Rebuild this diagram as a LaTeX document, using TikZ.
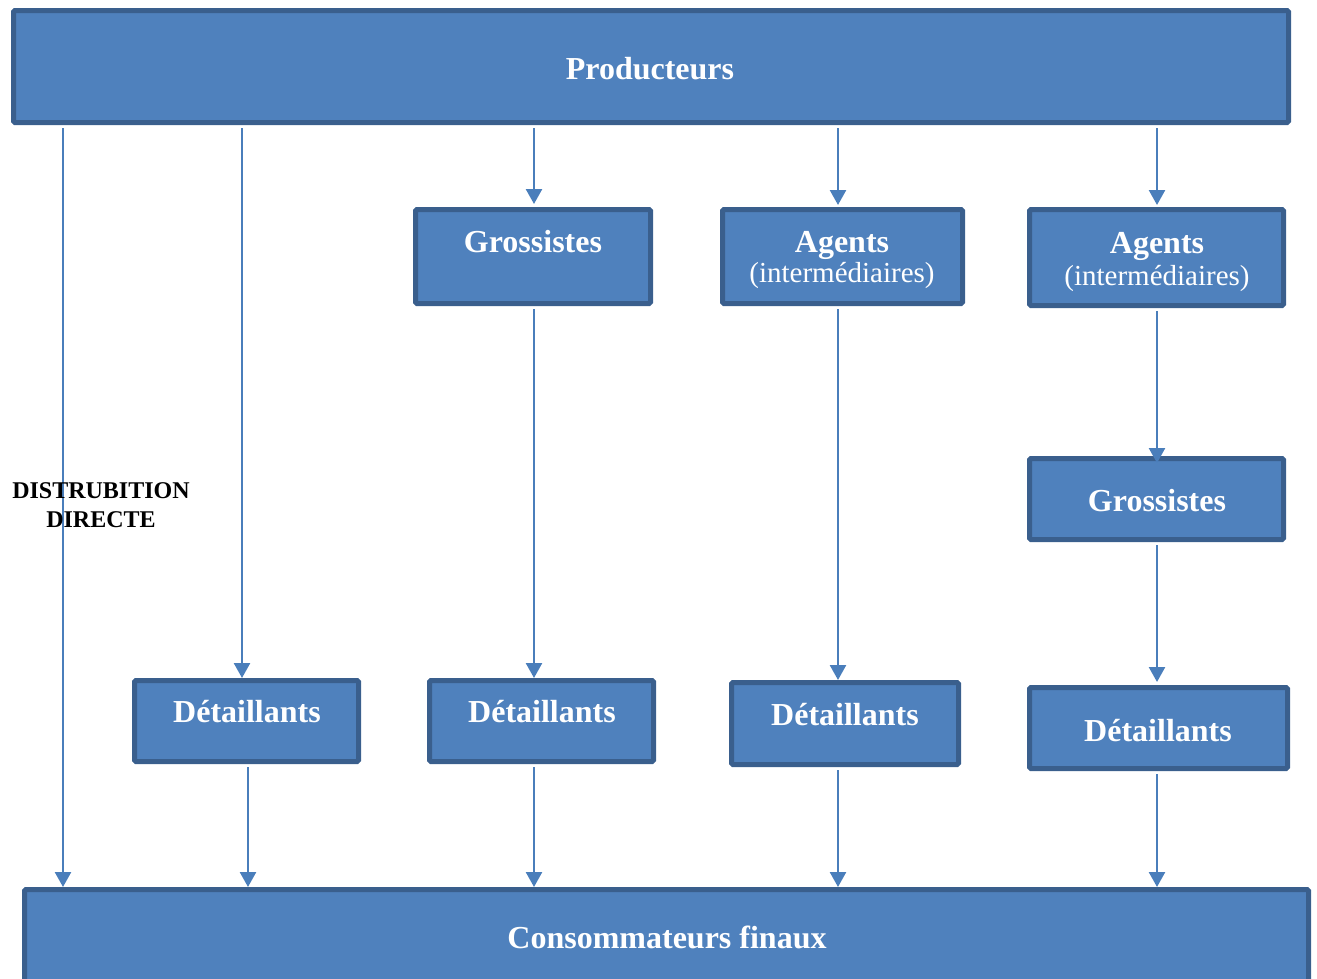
\documentclass[tikz,border=0pt]{standalone}
\usepackage{fontspec}
\setmainfont{Liberation Serif}
\usetikzlibrary{arrows.meta}
\definecolor{boxfill}{HTML}{4F81BD}
\definecolor{boxline}{HTML}{3A5F8D}
\definecolor{arrowc}{HTML}{4A7EBB}
\tikzset{
  box/.style={draw=boxline, fill=boxfill, line width=5pt, rounded corners=1.5pt,
              inner sep=0pt, rectangle},
  title/.style={text=white, font=\fontsize{32}{36}\selectfont\bfseries, inner sep=0pt, anchor=base},
  sub/.style={text=white, font=\fontsize{29}{33}\selectfont, inner sep=0pt, anchor=base},
  flow/.style={draw=arrowc, line width=2.5pt, -{Triangle[width=16pt,length=15pt]},
               shorten <=3pt},
}
\begin{document}
\begin{tikzpicture}[x=1pt,y=-1pt]
  \clip (0,0) rectangle (1317,978);
  \useasboundingbox (0,0) rectangle (1317,978);

  % boxes
  \node[box, minimum width=1275pt, minimum height=112pt] (prod) at (651,66.5) {};
  \node[box, minimum width=235pt, minimum height=94pt] (g1) at (533,256.5) {};
  \node[box, minimum width=240pt, minimum height=94pt] (a1) at (842.5,256.5) {};
  \node[box, minimum width=254pt, minimum height=96pt] (a2) at (1156.5,257.5) {};
  \node[box, minimum width=254pt, minimum height=81pt] (g2) at (1156.5,499) {};
  \node[box, minimum width=224pt, minimum height=81pt] (d1) at (246.5,721) {};
  \node[box, minimum width=224pt, minimum height=81pt] (d2) at (541.5,721) {};
  \node[box, minimum width=227pt, minimum height=82pt] (d3) at (845,723.5) {};
  \node[box, minimum width=258pt, minimum height=81pt] (d4) at (1158.5,728) {};
  \node[box, minimum width=1284pt, minimum height=160pt] (cons) at (666.5,969.5) {};

  % labels
  \node[title] (tprod) at (650,79) {Producteurs};
  \node[title] (tg1) at (533,252) {Grossistes};
  \node[title] (ta1) at (842,252) {Agents};
  \node[sub] (sa1) at (842,282) {(intermédiaires)};
  \node[title] (ta2) at (1157,253) {Agents};
  \node[sub] (sa2) at (1157,285) {(intermédiaires)};
  \node[title] (tg2) at (1157,511) {Grossistes};
  \node[title] (td1) at (247,722) {Détaillants};
  \node[title] (td2) at (542,722) {Détaillants};
  \node[title] (td3) at (845,725) {Détaillants};
  \node[title] (td4) at (1158,741) {Détaillants};
  \node[title] (tcons) at (667,948) {Consommateurs finaux};

  % channel columns
  \draw[flow] (prod.south -| 63,0) -- (cons.north -| 63,0);
  \draw[flow] (prod.south -| 242,0) -- (d1.north -| 242,0);
  \draw[flow] (prod.south -| 534,0) -- ([yshift=3pt]g1.north -| 534,0);
  \draw[flow] (prod.south -| 838,0) -- ([yshift=2pt]a1.north -| 838,0);
  \draw[flow] (prod.south -| 1157,0) -- ([yshift=2pt]a2.north -| 1157,0);
  \draw[flow] (g1.south -| 534,0) -- (d2.north -| 534,0);
  \draw[flow] (a1.south -| 838,0) -- (d3.north -| 838,0);
  \draw[flow] (a2.south -| 1157,0) -- ([yshift=-7pt]g2.north -| 1157,0);
  \draw[flow] (g2.south -| 1157,0) -- ([yshift=3pt]d4.north -| 1157,0);
  \draw[flow] (d1.south -| 248,0) -- (cons.north -| 248,0);
  \draw[flow] (d2.south -| 534,0) -- (cons.north -| 534,0);
  \draw[flow] (d3.south -| 838,0) -- (cons.north -| 838,0);
  \draw[flow] (d4.south -| 1157,0) -- (cons.north -| 1157,0);

  % side caption
  \node[font=\fontsize{24}{29}\selectfont\bfseries, align=center, inner sep=0pt,
        anchor=base] (direct) at (101,527) {DISTRUBITION\\DIRECTE};
\end{tikzpicture}
\end{document}
